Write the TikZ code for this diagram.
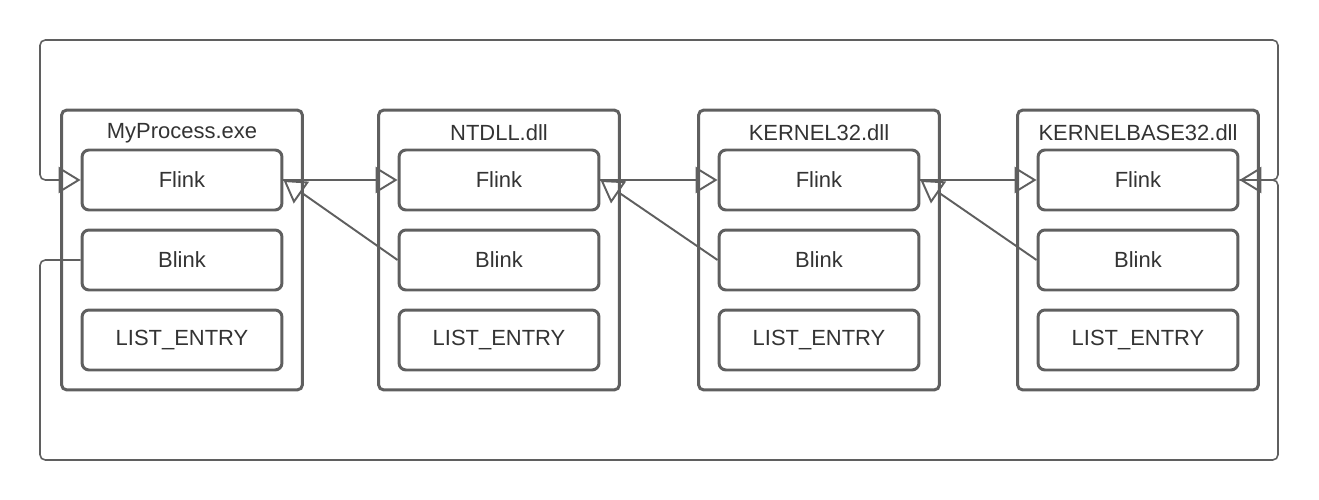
\documentclass[tikz,border=0pt]{standalone}
\usepackage{fontspec}
\setmainfont{Liberation Sans}
\usetikzlibrary{arrows.meta}
\definecolor{boxgray}{HTML}{5F5F5F}
\definecolor{textgray}{HTML}{333333}

\begin{document}
\begin{tikzpicture}[x=0.02cm, y=-0.02cm,
  module/.style={draw=boxgray, line width=1.7pt, rounded corners=3pt, minimum width=4.82cm, minimum height=5.6cm},
  field/.style={draw=boxgray, line width=1.7pt, rounded corners=4pt, minimum width=4cm, minimum height=1.2cm, text=textgray, font=\fontsize{12.5}{14}\selectfont},
  title/.style={text=textgray, font=\fontsize{12.5}{14}\selectfont},
  link/.style={draw=boxgray, line width=1.1pt, -{Triangle[open, length=12.5pt, width=15pt]}},
  wrap/.style={draw=boxgray, line width=0.9pt, rounded corners=3pt, -{Triangle[open, length=12.5pt, width=15pt, line width=1.1pt]}}]
  \useasboundingbox (0,0) rectangle (1319,500);

  % one box per loaded module
  \foreach \x/\n/\t in {182/proc/MyProcess.exe, 499/ntdll/NTDLL.dll, 819/k32/KERNEL32.dll, 1138/kb32/KERNELBASE32.dll} {
    \node[module] (\n) at (\x,250) {};
    \node[title] (\n-title) at (\x,133) {\t};
    \node[field] (\n-flink) at (\x,180) {Flink};
    \node[field] (\n-blink) at (\x,260) {Blink};
    \node[field] (\n-entry) at (\x,340) {LIST\_ENTRY};
  }

  % Flink forward, Blink back
  \foreach \a/\b in {proc/ntdll, ntdll/k32, k32/kb32} {
    \draw[link] (\a-flink.east) -- (\b-flink.west);
    \draw[link] (\b-blink.west) -- (\a-flink.east);
  }

  % wrap around the ends of the list
  \coordinate (topL) at (40,40);
  \coordinate (topR) at (1278,40);
  \coordinate (botL) at (40,460);
  \coordinate (botR) at (1278,460);
  \draw[wrap] (kb32-flink.east) -| (topR) -- (topL) |- (proc-flink.west);
  \draw[wrap] (proc-blink.west) -| (botL) -- (botR) |- (kb32-flink.east);
\end{tikzpicture}
\end{document}
